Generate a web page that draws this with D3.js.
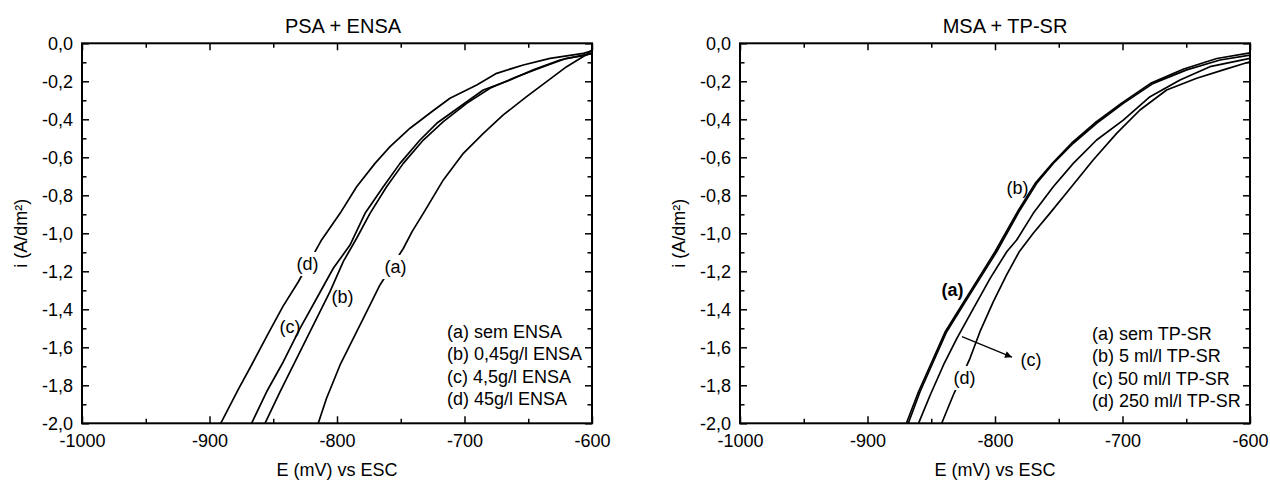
<!DOCTYPE html>
<html>
<head>
<meta charset="utf-8">
<script src="https://cdn.jsdelivr.net/npm/d3@7"></script>
<style>
  html, body { margin: 0; padding: 0; background: #fff; }
  svg { display: block; }
  text { font-family: "Liberation Sans", Arial, Helvetica, sans-serif; fill: #000; }
</style>
</head>
<body>
<svg id="chart" width="1270" height="481"></svg>
<script>
// ---------- data ----------
const xTicks = [-1000, -900, -800, -700, -600];
const xTickLabels = ["-1000", "-900", "-800", "-700", "-600"];
const xMinorTicks = [-950, -850, -750, -650];
const yTicks = [0, -0.2, -0.4, -0.6, -0.8, -1.0, -1.2, -1.4, -1.6, -1.8, -2.0];
const yTickLabels = ["0,0", "-0,2", "-0,4", "-0,6", "-0,8", "-1,0", "-1,2", "-1,4", "-1,6", "-1,8", "-2,0"];
const yMinorTicks = [-0.1, -0.3, -0.5, -0.7, -0.9, -1.1, -1.3, -1.5, -1.7, -1.9];

const titles = ["PSA + ENSA", "MSA + TP-SR"];
const xLabel = "E (mV) vs ESC";
const yLabel = "i (A/dm²)";

// Panel 1: PSA + ENSA  [E (mV), i (A/dm²)]
const psaA = [[-814.7,-2.0],[-808.2,-1.868],[-797.6,-1.693],[-787.2,-1.553],[-776.7,-1.412],[-766.3,-1.272],[-748,-1.08],[-741,-0.99],[-732.3,-0.895],[-716.6,-0.719],[-700.9,-0.579],[-685.2,-0.474],[-669.6,-0.377],[-651.3,-0.281],[-635.6,-0.202],[-619.9,-0.123],[-606.8,-0.07],[-600,-0.035]];
const psaB = [[-856.5,-2.0],[-844.7,-1.834],[-831.6,-1.658],[-818.6,-1.483],[-805.5,-1.307],[-795.1,-1.149],[-784.6,-1.026],[-774.1,-0.895],[-761.1,-0.755],[-748,-0.632],[-732.3,-0.509],[-716.6,-0.412],[-698.3,-0.316],[-680,-0.237],[-659.1,-0.176],[-638.2,-0.123],[-619.9,-0.079],[-604.2,-0.062],[-600,-0.05]];
const psaC = [[-867,-2.0],[-855.2,-1.834],[-842.1,-1.676],[-829,-1.5],[-815.9,-1.342],[-802.9,-1.184],[-789.8,-1.062],[-778,-0.895],[-763.7,-0.755],[-750.6,-0.632],[-734.9,-0.509],[-721.8,-0.421],[-703.7,-0.334],[-685.3,-0.246],[-664.3,-0.193],[-646,-0.14],[-625.1,-0.088],[-606.8,-0.062],[-600,-0.055]];
const psaD = [[-891.2,-2.0],[-877,-1.816],[-867,-1.693],[-854.5,-1.535],[-842.5,-1.386],[-830.3,-1.255],[-812.1,-1.035],[-797.6,-0.895],[-784.6,-0.755],[-770.2,-0.632],[-758.4,-0.544],[-742.7,-0.447],[-725.7,-0.36],[-711.4,-0.289],[-690.4,-0.219],[-674.8,-0.158],[-653.9,-0.114],[-632.9,-0.079],[-606.8,-0.053],[-600,-0.04]];

// Panel 2: MSA + TP-SR
const msaA = [[-868,-2.0],[-858.8,-1.834],[-848.4,-1.676],[-837.9,-1.518],[-824.9,-1.377],[-811.8,-1.237],[-798.7,-1.097],[-793.5,-1.035],[-780.4,-0.877],[-767.3,-0.737],[-754.3,-0.632],[-738.6,-0.526],[-720.3,-0.421],[-699.4,-0.316],[-675.9,-0.211],[-649.7,-0.14],[-623.5,-0.088],[-600,-0.062]];
const msaB = [[-869.5,-2.0],[-860,-1.834],[-849.5,-1.676],[-839,-1.518],[-826,-1.377],[-813,-1.237],[-800,-1.097],[-781.5,-0.877],[-768.5,-0.737],[-755,-0.632],[-740,-0.526],[-722,-0.421],[-701,-0.316],[-678,-0.211],[-652,-0.135],[-626,-0.08],[-600,-0.05]];
const msaC = [[-860,-2.0],[-850.8,-1.851],[-840.4,-1.693],[-829.9,-1.553],[-816.9,-1.395],[-803.8,-1.237],[-790.8,-1.097],[-783,-1.035],[-770,-0.895],[-754.3,-0.755],[-738.6,-0.632],[-720.3,-0.509],[-699.4,-0.404],[-678.4,-0.281],[-654.9,-0.193],[-631.4,-0.123],[-600,-0.079]];
const msaD = [[-841.8,-2.0],[-832.7,-1.851],[-819.6,-1.658],[-811.8,-1.518],[-801.3,-1.36],[-790.9,-1.219],[-781,-1.097],[-770,-1.0],[-757,-0.895],[-740,-0.755],[-723,-0.614],[-704.6,-0.474],[-686.3,-0.351],[-665.4,-0.246],[-641.8,-0.184],[-620.9,-0.14],[-600,-0.097]];

const legend1 = ["(a) sem ENSA", "(b) 0,45g/l ENSA", "(c) 4,5g/l ENSA", "(d) 45g/l ENSA"];
const legend2 = ["(a) sem TP-SR", "(b) 5 ml/l TP-SR", "(c) 50 ml/l TP-SR", "(d) 250 ml/l TP-SR"];

// curve labels: [text, E, i(baseline), bold, masks curve]
const labels1 = [["(d)", -823.1, -1.193, false, true], ["(c)", -836.9, -1.525, false, false], ["(b)", -795.7, -1.367, false, false], ["(a)", -754.1, -1.209, false, true]];
const labels2 = [["(b)", -782.4, -0.793, false, false], ["(a)", -833.3, -1.33, true, false], ["(c)", -771.8, -1.698, false, false], ["(d)", -823.9, -1.793, false, true]];
const arrow2 = [[-825.9, -1.544], [-786.7, -1.652]];

// ---------- drawing ----------
const svg = d3.select("#chart");
const defs = svg.append("defs");
defs.append("marker").attr("id", "arrowhead").attr("viewBox", "0 0 10 10")
  .attr("refX", 10).attr("refY", 5).attr("markerWidth", 9).attr("markerHeight", 7)
  .attr("markerUnits", "userSpaceOnUse").attr("orient", "auto")
  .append("path").attr("d", "M0,0 L10,5 L0,10 Z").attr("fill", "#000");

const panels = [
  { left: 82, title: titles[0], titleX: 343, series: [psaA, psaB, psaC, psaD], legend: legend1, legendX: 447, legendY: 338, labels: labels1, arrow: null },
  { left: 740, title: titles[1], titleX: 1005, series: [msaA, msaB, msaC, msaD], legend: legend2, legendX: 1092, legendY: 340, labels: labels2, arrow: arrow2 }
];
const plotTop = 43.3, plotBottom = 423.3, plotWidth = 510;

panels.forEach(p => {
  const x = d3.scaleLinear().domain([-1000, -600]).range([p.left, p.left + plotWidth]);
  const y = d3.scaleLinear().domain([0, -2]).range([plotTop, plotBottom]);
  const g = svg.append("g");

  const styleAxis = sel => {
    sel.select(".domain").remove();
    sel.selectAll(".tick line").attr("stroke", "#000").attr("stroke-width", 1.5);
    sel.selectAll("text").style("font-size", "18px").style("font-family", "'Liberation Sans', Arial, sans-serif").attr("fill", "#000");
  };

  // major ticks
  g.append("g").attr("transform", `translate(0,${plotBottom})`)
    .call(d3.axisBottom(x).tickValues(xTicks).tickSize(-7).tickPadding(11).tickFormat((d, i) => xTickLabels[i])).call(styleAxis);
  g.append("g").attr("transform", `translate(0,${plotTop})`)
    .call(d3.axisTop(x).tickValues(xTicks).tickSize(-7).tickFormat("")).call(styleAxis);
  g.append("g").attr("transform", `translate(${p.left},0)`)
    .call(d3.axisLeft(y).tickValues(yTicks).tickSize(-7).tickPadding(9).tickFormat((d, i) => yTickLabels[i])).call(styleAxis);
  g.append("g").attr("transform", `translate(${p.left + plotWidth},0)`)
    .call(d3.axisRight(y).tickValues(yTicks).tickSize(-7).tickFormat("")).call(styleAxis);
  // minor ticks
  g.append("g").attr("transform", `translate(0,${plotBottom})`)
    .call(d3.axisBottom(x).tickValues(xMinorTicks).tickSize(-4.5).tickFormat("")).call(styleAxis);
  g.append("g").attr("transform", `translate(0,${plotTop})`)
    .call(d3.axisTop(x).tickValues(xMinorTicks).tickSize(-4.5).tickFormat("")).call(styleAxis);
  g.append("g").attr("transform", `translate(${p.left},0)`)
    .call(d3.axisLeft(y).tickValues(yMinorTicks).tickSize(-4.5).tickFormat("")).call(styleAxis);
  g.append("g").attr("transform", `translate(${p.left + plotWidth},0)`)
    .call(d3.axisRight(y).tickValues(yMinorTicks).tickSize(-4.5).tickFormat("")).call(styleAxis);

  // curves
  const clipId = "clip" + p.left;
  defs.append("clipPath").attr("id", clipId).append("rect")
    .attr("x", p.left).attr("y", plotTop).attr("width", plotWidth).attr("height", plotBottom - plotTop);
  const line = d3.line().x(d => x(d[0])).y(d => y(d[1])).curve(d3.curveLinear);
  const cg = g.append("g").attr("clip-path", `url(#${clipId})`);
  p.series.forEach(s => {
    cg.append("path").datum(s).attr("d", line).attr("fill", "none")
      .attr("stroke", "#000").attr("stroke-width", 1.7).attr("stroke-linejoin", "round");
  });

  // frame
  g.append("rect").attr("x", p.left).attr("y", plotTop).attr("width", plotWidth).attr("height", plotBottom - plotTop)
    .attr("fill", "none").attr("stroke", "#000").attr("stroke-width", 2);

  // curve labels
  p.labels.forEach(l => {
    const t = g.append("text").attr("x", x(l[1])).attr("y", y(l[2])).attr("text-anchor", "middle")
      .style("font-size", "18px").style("font-weight", l[3] ? "bold" : "normal").text(l[0]);
    if (l[4]) {
      const b = t.node().getBBox();
      g.insert("rect", () => t.node()).attr("x", b.x - 3).attr("y", b.y - 2)
        .attr("width", b.width + 6).attr("height", b.height + 4).attr("fill", "#fff");
    }
  });

  if (p.arrow) {
    g.append("line").attr("x1", x(p.arrow[0][0])).attr("y1", y(p.arrow[0][1]))
      .attr("x2", x(p.arrow[1][0])).attr("y2", y(p.arrow[1][1]))
      .attr("stroke", "#000").attr("stroke-width", 1.2).attr("marker-end", "url(#arrowhead)");
  }

  // legend
  p.legend.forEach((txt, i) => {
    g.append("text").attr("x", p.legendX).attr("y", p.legendY + i * 22.3)
      .style("font-size", "18px").text(txt);
  });

  // title & axis labels
  g.append("text").attr("x", p.titleX).attr("y", 33).attr("text-anchor", "middle")
    .style("font-size", "20px").text(p.title);
  g.append("text").attr("x", p.left + plotWidth / 2).attr("y", 476).attr("text-anchor", "middle")
    .style("font-size", "18px").text(xLabel);
  g.append("text").attr("transform", `translate(${p.left - 55},${(plotTop + plotBottom) / 2}) rotate(-90)`)
    .attr("text-anchor", "middle").style("font-size", "18px").text(yLabel);
});
</script>
</body>
</html>
